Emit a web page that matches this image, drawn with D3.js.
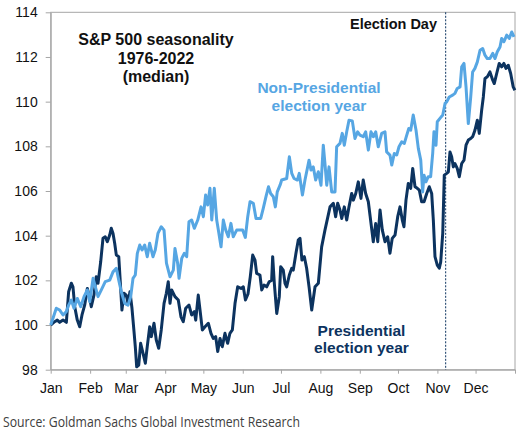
<!DOCTYPE html>
<html>
<head>
<meta charset="utf-8">
<script src="https://cdn.jsdelivr.net/npm/d3@7"></script>
<style>
  body { margin: 0; background: #fff; }
  svg { display: block; }
</style>
</head>
<body>
<div id="chart"></div>
<script>
// month axis, day-of-year based (365 day year)
const monthLabels = ['Jan','Feb','Mar','Apr','May','Jun','Jul','Aug','Sep','Oct','Nov','Dec'];
const monthStarts = [0, 31, 59, 90, 120, 151, 181, 212, 243, 273, 304, 334];
const yTicks = [98, 100, 102, 104, 106, 108, 110, 112, 114];
const electionDay = 310.5;

// Non-Presidential election year (day of year, median index)
const npDays = [0,1.8,4.4,7.1,9.7,12.3,14.1,16.2,18.3,20.9,23.6,26.2,28.8,30.7,33.3,35.1,37.2,39.8,42.9,46.4,
  49.0,51.6,53.5,55.5,58.2,60.8,62.9,64.7,66.5,68.1,70.0,71.8,73.9,75.9,77.8,80.4,82.2,84.3,86.9,89.1,
  91.0,93.8,96.4,97.7,99.8,100.9,103.0,105.0,106.9,108.7,110.8,112.9,115.6,118.2,120.0,121.8,123.4,125.2,126.6,128.6,
  130.5,131.8,133.9,135.7,137.6,139.6,141.7,143.5,146.2,148.8,150.9,153.0,154.9,156.7,159.3,161.4,165.1,167.1,169.2,171.2,
  172.9,175.0,176.6,178.1,180.3,181.6,185.5,187.6,189.5,191.3,193.9,195.4,197.9,199.9,203.1,204.6,206.4,208.3,210.4,212.5,
  214.3,215.6,217.0,218.8,220.9,223.5,224.8,227.4,229.2,230.8,232.7,234.5,237.1,239.2,241.3,243.1,245.7,247.6,249.7,251.8,
  253.6,255.5,257.5,260.2,262.8,264.1,266.7,268.1,270.1,272.0,273.8,275.9,278.0,279.9,281.5,283.0,285.0,287.2,289.0,290.9,
  292.4,293.5,295.0,296.8,298.7,300.3,301.3,302.9,303.9,306.0,308.2,310.0,311.3,313.3,316.0,317.8,319.6,321.8,323.1,324.9,
  326.5,328.3,330.2,331.7,333.5,335.4,337.5,339.6,341.4,343.2,345.3,347.5,349.3,351.1,353.2,354.5,356.3,358.5,360.5,362.4,364.2];
const npValues = [100.00,100.30,100.75,100.67,100.45,100.60,100.89,101.12,100.75,101.19,100.82,101.27,101.57,101.04,102.09,101.71,101.27,101.57,101.94,102.01,
  102.38,102.54,102.01,101.49,100.97,100.89,101.27,102.09,102.24,103.21,103.58,103.36,103.58,103.06,103.66,103.06,103.36,104.10,104.40,104.25,
  102.77,102.16,102.46,103.43,102.76,102.09,102.98,103.21,103.06,104.62,104.70,104.33,104.70,105.29,104.85,105.82,105.37,106.12,104.70,106.12,
  104.70,104.25,103.50,104.70,104.25,103.95,104.55,103.95,104.25,104.25,104.25,103.92,104.85,105.52,105.45,104.77,104.77,105.22,105.74,106.19,
  105.89,105.74,105.29,105.96,106.26,106.49,106.56,107.53,106.79,106.56,106.49,106.79,105.82,106.49,107.38,106.94,107.08,106.49,106.86,106.26,
  108.05,107.23,106.26,107.08,105.96,105.96,107.98,108.13,108.58,108.05,108.65,109.17,109.14,108.35,108.65,108.50,108.43,108.65,107.83,108.65,
  108.43,108.65,107.98,108.58,108.65,107.75,107.61,107.16,107.68,107.61,107.98,108.20,108.13,108.50,108.80,108.72,109.40,108.72,107.91,107.38,
  105.96,106.71,106.41,106.64,106.64,107.68,108.65,108.05,109.10,109.25,109.40,109.92,109.99,110.21,110.29,110.37,110.59,110.66,111.56,111.71,
  110.66,109.02,110.21,111.33,111.49,111.78,112.30,112.38,112.08,111.93,111.93,112.16,111.93,112.23,112.45,112.83,112.68,112.98,112.83,113.12,112.90];

// Presidential election year
const pDays = [0,3.1,5.2,7.1,9.7,12.3,14.1,16.2,17.5,18.9,20.9,22.8,24.6,26.7,28.8,30.7,31.9,34.0,35.8,37.2,
  39.3,41.1,42.9,44.5,46.4,47.6,49.0,50.3,51.6,53.5,55.0,56.0,57.6,59.4,60.8,62.3,63.9,65.5,66.5,67.6,
  69.2,70.7,72.6,74.4,75.9,77.8,79.1,81.2,83.0,84.9,86.9,89.1,90.9,92.4,93.8,95.1,97.7,100.3,102.4,104.2,
  106.1,108.7,110.8,112.9,114.0,116.0,117.4,119.2,121.3,123.9,126.0,127.8,129.7,131.3,133.1,134.9,137.0,139.1,140.9,142.8,
  144.9,147.0,149.6,151.4,153.1,155.1,156.9,158.8,160.6,161.9,164.5,165.9,167.7,169.8,171.8,173.7,174.5,175.8,177.7,179.7,
  180.8,182.8,184.2,185.5,187.6,189.5,190.7,192.8,194.6,196.0,197.5,199.4,201.2,203.1,205.2,207.8,210.4,213.0,215.6,219.6,
  222.2,224.0,225.6,227.4,228.8,230.8,232.7,234.5,236.6,237.9,239.8,241.8,243.9,245.7,247.6,249.7,251.8,253.6,255.5,257.1,
  258.9,260.7,262.8,264.9,266.7,268.5,270.7,272.8,274.6,276.4,277.7,279.3,281.1,283.0,284.6,286.4,288.2,289.8,291.6,293.5,
  295.6,297.6,299.5,300.8,302.1,303.9,305.5,306.6,308.2,309.4,311.3,312.6,313.9,315.2,316.5,317.8,319.6,321.2,323.1,324.9,
  326.5,328.3,330.2,331.7,333.5,335.4,336.9,338.8,340.1,341.4,343.2,345.3,347.5,348.7,350.6,352.6,354.5,356.3,357.9,359.7,
  361.6,363.6,364.9];
const pValues = [100.00,100.15,100.22,100.12,100.22,100.12,101.49,101.87,101.71,100.82,100.22,99.92,100.45,100.89,101.64,101.19,100.82,101.34,102.16,101.87,
  102.83,103.88,103.95,103.73,104.03,104.33,104.10,103.66,103.13,103.06,101.64,100.67,101.42,101.34,100.97,101.49,100.75,99.70,99.03,98.13,
  98.21,99.18,98.73,98.29,99.03,99.92,99.48,100.08,99.33,98.96,99.78,100.97,101.42,101.94,100.97,101.57,101.27,101.12,100.37,100.15,
  100.75,100.89,100.45,100.60,100.22,101.34,100.67,99.78,99.92,100.08,99.63,99.40,99.48,98.81,99.40,99.03,99.63,99.18,99.63,99.78,
  100.97,101.71,101.64,101.71,101.12,101.39,102.16,103.13,102.91,102.31,102.24,101.57,101.79,101.71,101.94,102.01,103.06,101.87,100.52,101.27,
  102.61,102.46,101.87,101.71,102.24,102.54,102.46,103.21,103.80,103.88,102.91,103.06,102.54,101.71,100.67,101.71,101.87,103.50,104.25,105.29,
  105.45,104.85,105.45,105.15,104.77,105.29,104.70,105.29,105.89,105.59,105.89,106.41,105.67,106.49,105.89,105.52,104.55,103.73,104.55,103.73,
  105.15,104.25,103.73,103.95,103.21,103.88,104.03,104.85,105.29,104.70,104.40,105.59,106.34,106.12,107.01,106.19,106.12,106.04,105.52,105.52,
  105.89,106.19,105.89,104.70,103.06,102.68,102.54,102.83,104.10,106.71,106.79,106.86,107.75,107.53,107.08,107.23,107.01,106.64,107.23,107.38,
  108.05,108.28,108.35,108.43,108.72,109.17,108.58,109.62,110.21,111.04,111.11,111.33,110.96,110.81,111.26,111.71,111.56,111.71,111.49,111.63,
  111.26,110.66,110.51];

const width = 520, height = 432;
const margin = {top: 12.3, right: 5, bottom: 62.3, left: 50.7};
const colorNP = '#56a6e3', colorP = '#0c335f';

const svg = d3.select('#chart').append('svg')
  .attr('width', width)
  .attr('height', height);

const x = d3.scaleLinear().domain([0, 365]).range([margin.left, width - margin.right]);
const y = d3.scaleLinear().domain([98, 114]).range([height - margin.bottom, margin.top]);

// plot frame
svg.append('rect')
  .attr('x', x(0)).attr('y', y(114))
  .attr('width', x(365) - x(0)).attr('height', y(98) - y(114))
  .attr('fill', 'none').attr('stroke', '#a6a6a6').attr('stroke-width', 1);

const xAxis = svg.append('g')
  .attr('transform', 'translate(0,' + y(98) + ')')
  .call(d3.axisBottom(x).tickValues(monthStarts.concat([365]))
    .tickFormat((d, i) => monthLabels[i] || '')
    .tickSizeInner(4).tickSizeOuter(0).tickPadding(9));

const yAxis = svg.append('g')
  .attr('transform', 'translate(' + x(0) + ',0)')
  .call(d3.axisLeft(y).tickValues(yTicks).tickFormat(d3.format('d'))
    .tickSizeInner(5).tickSizeOuter(0).tickPadding(8));

[xAxis, yAxis].forEach(g => {
  g.select('.domain').attr('stroke', '#a6a6a6');
  g.selectAll('.tick line').attr('stroke', '#a6a6a6');
  g.selectAll('.tick text')
    .attr('fill', '#111')
    .style('font-family', 'Liberation Sans, Arial, sans-serif')
    .style('font-size', '14px');
});

// election day marker
svg.append('line')
  .attr('x1', x(electionDay)).attr('x2', x(electionDay))
  .attr('y1', y(114)).attr('y2', y(98))
  .attr('stroke', colorP).attr('stroke-width', 1)
  .attr('stroke-dasharray', '2,1.5');

const line = d3.line()
  .x(d => x(d[0]))
  .y(d => y(d[1]));

const pSeries = pDays.map((d, i) => [d, pValues[i]]);
const npSeries = npDays.map((d, i) => [d, npValues[i]]);

svg.append('path')
  .datum(pSeries)
  .attr('fill', 'none').attr('stroke', colorP)
  .attr('stroke-width', 3).attr('stroke-linejoin', 'round')
  .attr('d', line);

svg.append('path')
  .datum(npSeries)
  .attr('fill', 'none').attr('stroke', colorNP)
  .attr('stroke-width', 3).attr('stroke-linejoin', 'round')
  .attr('d', line);

const font = 'Liberation Sans, Arial, sans-serif';

function label(lines, cx, y0, dy, size, color) {
  const t = svg.append('text')
    .attr('text-anchor', 'middle')
    .attr('font-family', font)
    .attr('font-weight', 'bold')
    .attr('font-size', size)
    .attr('fill', color);
  lines.forEach((s, i) => {
    t.append('tspan').attr('x', cx).attr('y', y0 + i * dy).text(s);
  });
}

label(['S&P 500 seasonality', '1976-2022', '(median)'], 156, 45, 18.5, 16, '#111');
label(['Non-Presidential', 'election year'], 319, 93, 17.5, 15.5, colorNP);
label(['Presidential', 'election year'], 361.5, 336, 17.3, 15.5, colorP);

svg.append('text')
  .attr('x', 437).attr('y', 29)
  .attr('text-anchor', 'end')
  .attr('font-family', font)
  .attr('font-weight', 'bold')
  .attr('font-size', 14.5)
  .attr('fill', '#111')
  .text('Election Day');

svg.append('text')
  .attr('x', 3).attr('y', 427)
  .attr('font-family', 'Open Sans, sans-serif')
  .attr('font-size', 14)
  .attr('fill', '#404040')
  .attr('textLength', 297)
  .attr('lengthAdjust', 'spacingAndGlyphs')
  .text('Source: Goldman Sachs Global Investment Research');
</script>
</body>
</html>
